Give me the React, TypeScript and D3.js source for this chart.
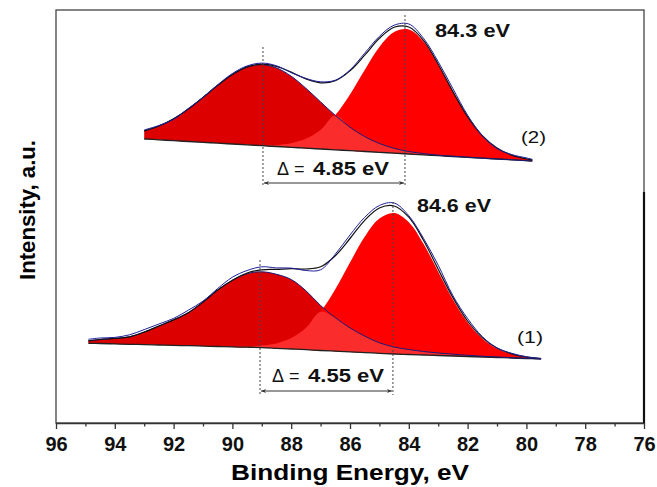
import { useEffect, useRef } from 'react';
import * as d3 from 'd3';

// x axis ticks (binding energy, eV)
const tickValues = [96, 94, 92, 90, 88, 86, 84, 82, 80, 78, 76];
const minorTickValues = [95, 93, 91, 89, 87, 85, 83, 81, 79, 77];

// spectrum (2), upper: energy, background and the two fitted components (a.u.)
const energy2 = [93.0, 92.5, 92.0, 91.5, 91.0, 90.5, 90.0, 89.5, 89.0, 88.5, 88.0, 87.5, 87.0, 86.5, 86.0, 85.5, 85.0, 84.5, 84.0, 83.5, 83.0, 82.5, 82.0, 81.5, 81.0, 80.5, 80.0, 79.8];
const base2 = [284.0, 283.2, 282.3, 281.5, 280.7, 279.8, 279.0, 278.2, 277.3, 276.5, 275.7, 274.8, 274.0, 273.2, 272.3, 271.5, 270.7, 269.8, 269.0, 268.2, 267.3, 266.5, 265.7, 264.8, 264.0, 263.2, 262.3, 262.0];
const hiPeak2 = [8.1, 13.8, 21.9, 32.5, 44.9, 57.9, 69.5, 77.7, 81.0, 78.6, 71.1, 59.9, 47.1, 34.4, 23.5, 14.9, 8.8, 4.9, 2.5, 1.2, 0.5, 0.2, 0.1, 0, 0, 0, 0, 0];
const loPeak2 = [0, 0, 0, 0, 0, 0, 0, 0.2, 0.6, 1.6, 4.1, 9.4, 19.1, 34.7, 56.3, 81.4, 105.2, 121.1, 124.5, 113.3, 91.0, 64.7, 40.5, 22.5, 11.0, 4.7, 1.8, 1.2];
// measured data minus fit envelope
const rawDev2 = [1, 0.5, -0.5, 0.5, 0, 0.5, 1, 1, 1, 0.5, -0.5, 0.5, 1, 0.5, 1, 2, 2, 2, 3, 2, 2.5, 3, 1.5, 0, -0.5, 0.5, 1, 0.5];

// spectrum (1), lower
const energy1 = [94.9, 94.5, 94.0, 93.5, 93.0, 92.5, 92.0, 91.5, 91.0, 90.5, 90.0, 89.5, 89.0, 88.5, 88.0, 87.5, 87.0, 86.5, 86.0, 85.5, 85.0, 84.5, 84.0, 83.5, 83.0, 82.5, 82.0, 81.5, 81.0, 80.5, 80.0, 79.5];
const base1 = [79.7, 79.5, 79.1, 78.7, 78.4, 78.0, 77.6, 77.3, 76.9, 76.5, 76.1, 75.8, 75.4, 74.7, 74.0, 73.3, 72.5, 71.8, 71.1, 70.4, 69.7, 69.0, 68.5, 68.0, 67.5, 67.0, 66.5, 66.0, 65.5, 65.0, 64.5, 64.0];
const hiPeak1 = [2.5, 4, 5.5, 7.5, 12.5, 19, 25.5, 33, 44, 56.5, 66.5, 73.5, 75.8, 74, 69.5, 59, 45, 33.5, 24, 16.5, 10.5, 7, 5, 3.5, 2.5, 1.8, 1.2, 0.8, 0.5, 0.3, 0.2, 0];
const loPeak1 = [0, 0, 0, 0, 0, 0, 0, 0, 0, 0, 0.2, 0.7, 2.0, 4.9, 10.9, 21.7, 38.7, 62.0, 89.4, 115.8, 134.8, 141.0, 132.3, 111.2, 83.8, 56.6, 34.3, 18.6, 9.0, 3.9, 1.5, 0.5];
const rawDev1 = [1.5, 1.5, 1, 2, 2.5, 2, 1.5, 2.5, 1, 1.5, 3, 2.5, 3, 1.5, 0.5, -1.5, -3, 1.5, 3.5, 3, 2.5, 3, 1.5, 2, 4, 2, 2.5, 1, 0, 0.5, 0, 0];

// peak positions used for the dotted markers (eV)
const centers2 = [88.96, 84.13];
const centers1 = [89.06, 84.54];

const FONT = 'Liberation Sans, Arial, Helvetica, sans-serif';

export default function App() {
  const svgRef = useRef<SVGSVGElement>(null);

  useEffect(() => {
    const svg = d3.select(svgRef.current);
    svg.selectAll('*').remove();

    const left = 56, right = 644, top = 10, bottom = 423;
    const x = d3.scaleLinear().domain([96, 76]).range([left, right]);
    const y = d3.scaleLinear().domain([0, 413]).range([bottom, top]);
    const curve = d3.curveCatmullRom.alpha(0.5);

    // arrow marker
    const defs = svg.append('defs');
    defs.append('marker')
      .attr('id', 'arr')
      .attr('viewBox', '0 0 10 10')
      .attr('refX', 10)
      .attr('refY', 5)
      .attr('markerWidth', 7)
      .attr('markerHeight', 5)
      .attr('markerUnits', 'userSpaceOnUse')
      .attr('orient', 'auto-start-reverse')
      .append('path')
      .attr('d', 'M0,1 L10,5 L0,9 L3,5 Z')
      .attr('fill', '#333');

    const spectra = [
      { energy: energy2, base: base2, hi: hiPeak2, lo: loPeak2, dev: rawDev2 },
      { energy: energy1, base: base1, hi: hiPeak1, lo: loPeak1, dev: rawDev1 },
    ];

    spectra.forEach(s => {
      const pts = s.energy.map((e, i) => ({
        e, b: s.base[i], h: s.hi[i], l: s.lo[i], r: s.dev[i],
      }));
      const area = (f: (d: any) => number) => d3.area<any>()
        .x(d => x(d.e))
        .y0(d => y(d.b))
        .y1(d => y(d.b + f(d)))
        .curve(curve);
      const line = (f: (d: any) => number) => d3.line<any>()
        .x(d => x(d.e))
        .y(d => y(f(d)))
        .curve(curve);

      svg.append('path').datum(pts).attr('d', area(d => d.h)).attr('fill', '#dc0000');
      svg.append('path').datum(pts).attr('d', area(d => d.l)).attr('fill', '#ff0000');
      // overlap of the two components
      svg.append('path').datum(pts).attr('d', area(d => Math.min(d.h, d.l))).attr('fill', '#fa2c2c');

      // background
      svg.append('path').datum(pts).attr('d', line(d => d.b))
        .attr('fill', 'none').attr('stroke', '#222').attr('stroke-width', 1.3);
      // high-BE component outline
      svg.append('path').datum(pts).attr('d', line(d => d.b + d.h))
        .attr('fill', 'none').attr('stroke', '#1a1a7a').attr('stroke-width', 1);
      // fit envelope
      svg.append('path').datum(pts).attr('d', line(d => d.b + d.h + d.l))
        .attr('fill', 'none').attr('stroke', '#111').attr('stroke-width', 1.2);
      // measured spectrum
      svg.append('path').datum(pts).attr('d', line(d => d.b + d.h + d.l + d.r))
        .attr('fill', 'none').attr('stroke', '#20209a').attr('stroke-width', 1);
    });

    // dotted peak markers and delta arrows
    const marks = [
      { c: centers2, tops: [376, 408], low: 236, arrowY: 240 },
      { c: centers1, tops: [163, 221], low: 28, arrowY: 32 },
    ];
    marks.forEach(m => {
      m.c.forEach((c, i) => {
        svg.append('line')
          .attr('x1', x(c)).attr('x2', x(c))
          .attr('y1', y(m.tops[i])).attr('y2', y(m.low))
          .attr('stroke', '#444').attr('stroke-width', 1).attr('stroke-dasharray', '2,2');
      });
      svg.append('line')
        .attr('x1', x(m.c[0]) + 1).attr('x2', x(m.c[1]) - 1)
        .attr('y1', y(m.arrowY)).attr('y2', y(m.arrowY))
        .attr('stroke', '#333').attr('stroke-width', 1)
        .attr('marker-start', 'url(#arr)').attr('marker-end', 'url(#arr)');
    });

    // frame
    svg.append('rect')
      .attr('x', left).attr('y', top)
      .attr('width', right - left).attr('height', bottom - top)
      .attr('fill', 'none').attr('stroke', '#444').attr('stroke-width', 1.3);
    svg.append('line')
      .attr('x1', right).attr('x2', right).attr('y1', 192).attr('y2', bottom)
      .attr('stroke', '#111').attr('stroke-width', 2.2);

    // x axis
    const gx = svg.append('g').attr('transform', `translate(0,${bottom})`)
      .call(d3.axisBottom(x).tickValues(tickValues).tickSize(6).tickSizeOuter(0).tickPadding(8).tickFormat(d3.format('d')));
    gx.select('.domain').attr('stroke', '#333').attr('stroke-width', 1.5);
    gx.selectAll('.tick line').attr('stroke', '#333').attr('stroke-width', 1.3);
    gx.selectAll('.tick text')
      .attr('font-family', FONT).attr('font-size', 20).attr('font-weight', 'bold').attr('fill', '#111');

    const gm = svg.append('g').attr('transform', `translate(0,${bottom})`)
      .call(d3.axisBottom(x).tickValues(minorTickValues).tickSize(3.5).tickSizeOuter(0).tickFormat(() => ''));
    gm.select('.domain').remove();
    gm.selectAll('.tick line').attr('stroke', '#333').attr('stroke-width', 1.3);

    // axis titles
    svg.append('text')
      .attr('x', 350).attr('y', 480)
      .attr('text-anchor', 'middle')
      .attr('font-family', FONT).attr('font-size', 22).attr('font-weight', 'bold')
      .attr('textLength', 238).attr('lengthAdjust', 'spacingAndGlyphs')
      .text('Binding Energy, eV');
    svg.append('text')
      .attr('transform', 'translate(35,210) rotate(-90)')
      .attr('text-anchor', 'middle')
      .attr('font-family', FONT).attr('font-size', 22).attr('font-weight', 'bold')
      .attr('textLength', 140).attr('lengthAdjust', 'spacingAndGlyphs')
      .text('Intensity, a.u.');

    // annotations
    const label = (tx: number, ty: number, s: string, len: number, bold = true, size = 18) => {
      svg.append('text')
        .attr('x', tx).attr('y', ty)
        .attr('font-family', FONT).attr('font-size', size)
        .attr('font-weight', bold ? 'bold' : 'normal').attr('fill', '#111')
        .attr('textLength', len).attr('lengthAdjust', 'spacingAndGlyphs')
        .text(s);
    };
    label(435, 37, '84.3 eV', 75);
    label(417, 212, '84.6 eV', 74);
    label(521, 143, '(2)', 25, false, 17);
    label(517, 343, '(1)', 26, false, 17);

    const delta = (tx: number, ty: number, val: string) => {
      svg.append('text').attr('x', tx).attr('y', ty)
        .attr('font-family', FONT).attr('font-size', 18).attr('fill', '#111')
        .text('\u0394');
      svg.append('text').attr('x', tx + 17).attr('y', ty)
        .attr('font-family', FONT).attr('font-size', 18).attr('fill', '#111')
        .text('=');
      label(tx + 36, ty, val, 76, true, 17.5);
    };
    delta(277, 175, '4.85 eV');
    delta(272, 382, '4.55 eV');
  }, []);

  return (
    <svg
      ref={svgRef}
      width={657}
      height={487}
      style={{ position: 'absolute', left: 0, top: 0, background: '#fff' }}
    />
  );
}
